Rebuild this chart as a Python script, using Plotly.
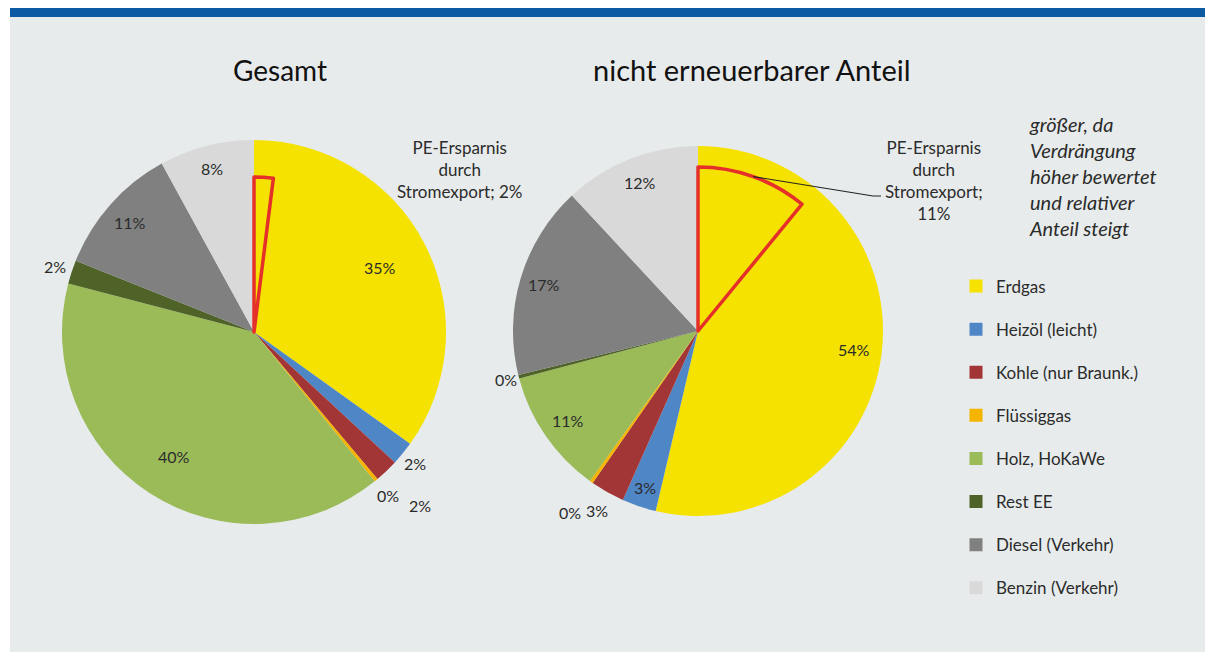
import math
import plotly.graph_objects as go

# ---------------- data ----------------
categories = ["Erdgas", "Heizöl (leicht)", "Kohle (nur Braunk.)", "Flüssiggas",
              "Holz, HoKaWe", "Rest EE", "Diesel (Verkehr)", "Benzin (Verkehr)"]
gesamt_values = [35, 2, 2, 0.3, 40, 2, 11, 8]
gesamt_labels = ["35%", "2%", "2%", "0%", "40%", "2%", "11%", "8%"]
nicht_ee_values = [54, 3, 3, 0.3, 11, 0.3, 17, 12]
nicht_ee_labels = ["54%", "3%", "3%", "0%", "11%", "0%", "17%", "12%"]
pe_gesamt = 2
pe_nicht_ee = 11
titles = ["Gesamt", "nicht erneuerbarer Anteil"]
pe_text_gesamt = "PE-Ersparnis<br>durch<br>Stromexport; 2%"
pe_text_nicht_ee = "PE-Ersparnis<br>durch<br>Stromexport;<br>11%"
note_text = "größer, da<br>Verdrängung<br>höher bewertet<br>und relativer<br>Anteil steigt"

# ---------------- style / layout ----------------
W, H = 1205, 653
colors = ["#f5e200", "#4f86c6", "#a23535", "#f5b400",
          "#9bbb59", "#4f6228", "#808080", "#d9d9d9"]
FONT = "Lato"
TXT = "#2b2b2b"

# pie geometry in pixels (center x, center y, radius)
left_geo = (254, 332, 192)
right_geo = (698, 331, 185)
pe_left_r = 155
pe_right_r = 164
# label radial factors (relative to radius)
left_label_r = [0.74, 1.08, 1.25, 1.10, 0.77, 1.09, 0.86, 0.88]
right_label_r = [0.85, 0.89, 1.11, 1.20, 0.85, 1.07, 0.87, 0.86]


def domain(cx, cy, r):
    return dict(x=[(cx - r) / W, (cx + r) / W], y=[1 - (cy + r) / H, 1 - (cy - r) / H])


def px(x, y):
    return x / W, 1 - y / H


fig = go.Figure()

for vals, geo in [(gesamt_values, left_geo), (nicht_ee_values, right_geo)]:
    fig.add_trace(go.Pie(
        labels=categories, values=vals, sort=False, direction="clockwise", rotation=0,
        marker=dict(colors=colors, line=dict(width=0)),
        textinfo="none", showlegend=False, domain=domain(*geo),
        hovertemplate="%{label}: %{percent}<extra></extra>"))

# PE-Ersparnis overlays
for pe, vals, geo, rpe in [(pe_gesamt, gesamt_values, left_geo, pe_left_r),
                           (pe_nicht_ee, nicht_ee_values, right_geo, pe_right_r)]:
    total = sum(vals)
    fig.add_trace(go.Pie(
        labels=["PE-Ersparnis durch Stromexport", "rest"], values=[pe, total - pe],
        sort=False, direction="clockwise", rotation=0,
        marker=dict(colors=["rgba(0,0,0,0)", "rgba(0,0,0,0)"],
                    line=dict(color=["#e5302a", "rgba(0,0,0,0)"], width=[3.5, 0])),
        textinfo="none", showlegend=False, hoverinfo="skip",
        domain=domain(geo[0], geo[1], rpe)))

# legend via marker-only traces
for i, (c, col) in enumerate(zip(categories, colors)):
    fig.add_trace(go.Scatter(x=[None], y=[None], mode="markers", name=c,
                             legendgroup=f"g{i}",
                             marker=dict(symbol="square", size=13, color=col)))

annotations = []


def ann(x, y, text, size, color=TXT, xanchor="center", align="center"):
    xp, yp = px(x, y)
    annotations.append(dict(x=xp, y=yp, xref="paper", yref="paper", text=text,
                            showarrow=False, xanchor=xanchor, yanchor="middle", align=align,
                            font=dict(family=FONT, size=size, color=color)))


# slice labels computed from data
for vals, labels, geo, factors in [(gesamt_values, gesamt_labels, left_geo, left_label_r),
                                   (nicht_ee_values, nicht_ee_labels, right_geo, right_label_r)]:
    total = sum(vals)
    cum = 0
    cx, cy, r = geo
    for v, lab, f in zip(vals, labels, factors):
        mid = (cum + v / 2) / total * 2 * math.pi
        cum += v
        ann(cx + f * r * math.sin(mid), cy - f * r * math.cos(mid), lab, 16)

# titles
ann(280, 70, titles[0], 28, "#111111")
ann(752, 70, titles[1], 29, "#111111")

# PE labels
ann(460, 169, pe_text_gesamt, 17)
ann(934, 180, pe_text_nicht_ee, 17)

# italic note
ann(1027, 176, f"<i>{note_text}</i>", 20, xanchor="left", align="left")

# leader line for right PE wedge, starting at the wedge arc midpoint
mid = pe_nicht_ee / 2 / sum(nicht_ee_values) * 2 * math.pi
sx, sy = px(right_geo[0] + pe_right_r * math.sin(mid), right_geo[1] - pe_right_r * math.cos(mid))
ex1, ey1 = px(873, 196)
ex2, ey2 = px(881, 196)

shapes = [
    dict(type="rect", xref="paper", yref="paper", x0=10 / W, x1=1, y0=1 / H, y1=1 - 17 / H,
         fillcolor="#e8ebeb", line=dict(width=0), layer="below"),
    dict(type="rect", xref="paper", yref="paper", x0=10 / W, x1=1, y0=1 - 17 / H, y1=1 - 8 / H,
         fillcolor="#0b5aa2", line=dict(width=0), layer="below"),
    dict(type="path", xref="paper", yref="paper",
         path=f"M {sx},{sy} L {ex1},{ey1} L {ex2},{ey2}",
         line=dict(color="#222222", width=1.2)),
]

fig.update_layout(
    width=W, height=H, margin=dict(l=0, r=0, t=0, b=0),
    paper_bgcolor="white", plot_bgcolor="rgba(0,0,0,0)",
    xaxis=dict(visible=False), yaxis=dict(visible=False),
    annotations=annotations, shapes=shapes,
    legend=dict(x=956 / W, y=1 - 268.5 / H, xanchor="left", yanchor="top",
                bgcolor="rgba(0,0,0,0)", tracegroupgap=18,
                font=dict(family=FONT, size=17, color=TXT)),
    font=dict(family=FONT),
)

fig.write_html("out.html", config={"displayModeBar": False},
               post_script="document.body.style.margin='0';")
